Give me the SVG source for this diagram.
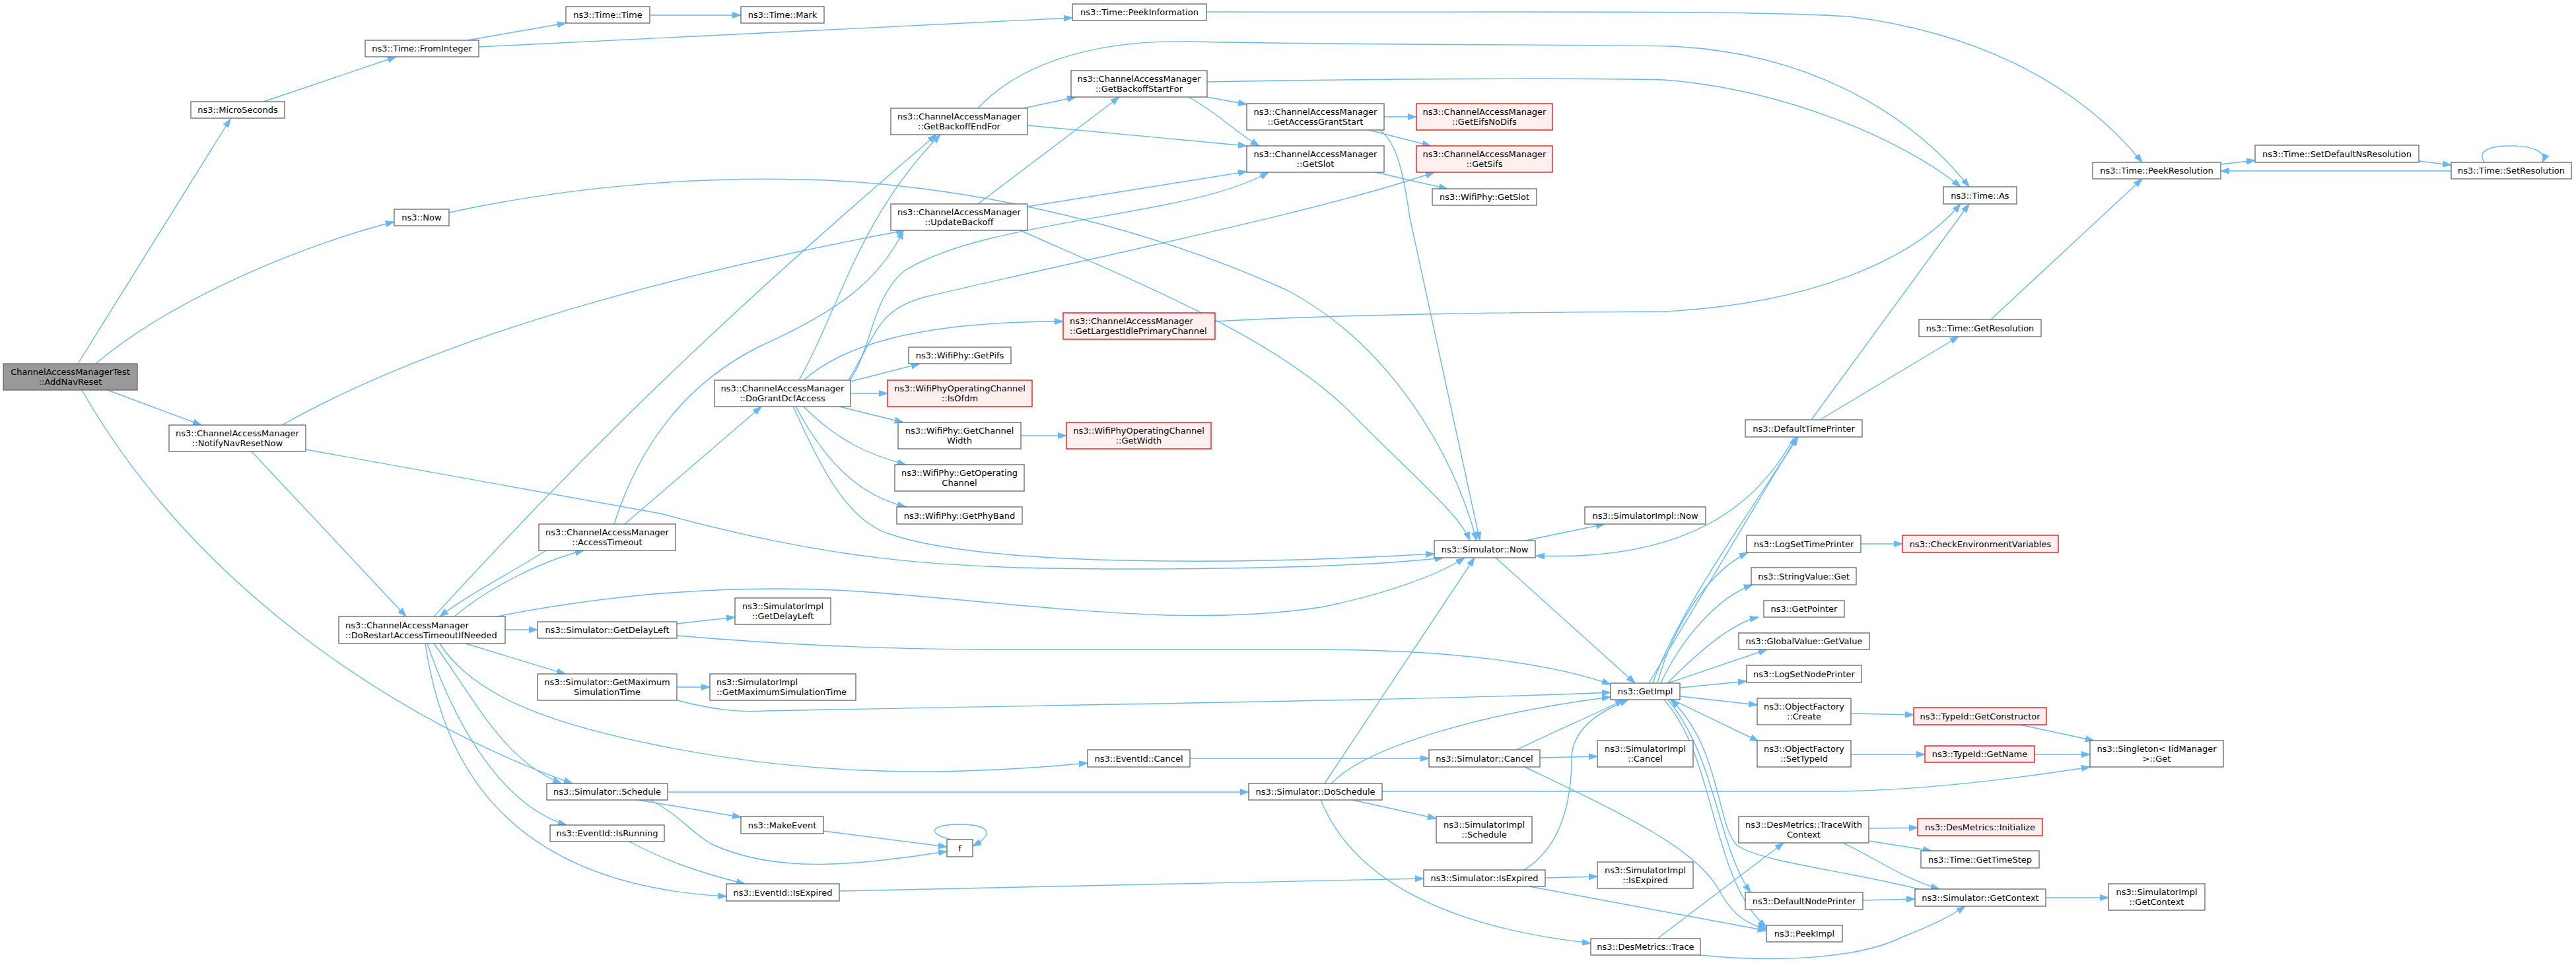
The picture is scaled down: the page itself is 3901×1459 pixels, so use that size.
<svg xmlns="http://www.w3.org/2000/svg" width="3901" height="1459" viewBox="0 0 3901 1459">
<defs>
<style>
.node rect{fill:#fff;stroke:#666;stroke-width:1.3}
.node.red rect{fill:#fff0f0;stroke:#f00}
.node.root rect{fill:#999;stroke:#666}
.node text{font-family:"DejaVu Sans","Liberation Sans",sans-serif;font-size:13px;fill:#000;text-anchor:middle}
.node text.l{text-anchor:start}
#edges path{fill:none;stroke:#63b8ff;stroke-width:1.4;marker-end:url(#arr)}
</style>
<marker id="arr" markerUnits="userSpaceOnUse" markerWidth="14" markerHeight="10" refX="13" refY="5" orient="auto"><path d="M0,0.5 L13,5 L0,9.5 z" fill="#63b8ff" stroke="#63b8ff" stroke-width="1"/></marker>
</defs>
<rect width="3901" height="1459" fill="#fff"/>
<g id="edges">
<path d="M118,551 L349,180"/>
<path d="M145,551 C270,445 480,365 597,336"/>
<path d="M163,591 L305,644"/>
<path d="M124,591 C300,900 620,1100 867,1187"/>
<path d="M399,154 L600,86"/>
<path d="M708,61 L857,35"/>
<path d="M725,71 L1624,27"/>
<path d="M984,23 L1122,23"/>
<path d="M1827,18 C2300,19 2650,15 2800,25 C3000,50 3150,130 3244,246"/>
<path d="M680,322 C850,285 1050,265 1250,273 C1500,285 1750,350 1950,440 C2100,520 2200,680 2236,819"/>
<path d="M427,644 C700,490 1100,400 1370,349"/>
<path d="M381,684 L615,934"/>
<path d="M463,681 L1000,778 C1250,845 1400,862 1700,862 C1950,862 2100,855 2186,845"/>
<path d="M688,934 C740,890 820,850 884,834"/>
<path d="M827,834 C770,870 710,900 666,934"/>
<path d="M657,934 C800,780 1000,560 1418,204"/>
<path d="M765,954 L814,954"/>
<path d="M705,975 L856,1021"/>
<path d="M657,975 C720,1060 760,1150 850,1187"/>
<path d="M647,975 C690,1100 760,1220 858,1250"/>
<path d="M644,975 C670,1150 760,1340 1100,1358"/>
<path d="M666,975 C720,1060 850,1100 1000,1130 C1200,1170 1400,1180 1647,1156"/>
<path d="M752,934 C900,905 1100,880 1330,898 C1600,920 1800,950 2000,920 C2100,900 2180,870 2218,845"/>
<path d="M930,794 C960,700 1020,590 1150,525 C1260,475 1330,430 1368,349"/>
<path d="M946,794 L1153,616"/>
<path d="M1201,616 C1240,700 1280,790 1350,810 C1500,860 1900,855 2172,839"/>
<path d="M1210,576 C1270,470 1300,330 1424,204"/>
<path d="M1217,576 C1280,520 1400,487 1610,487"/>
<path d="M1287,576 C1320,530 1320,450 1370,410 C1500,330 1800,330 1921,261"/>
<path d="M1285,576 C1330,500 1330,470 1400,450 C1700,380 2000,320 2172,261"/>
<path d="M1288,578 L1393,551"/>
<path d="M1288,596 L1344,596"/>
<path d="M1271,616 L1368,640"/>
<path d="M1217,616 C1270,670 1320,690 1372,704"/>
<path d="M1205,616 C1250,700 1300,750 1372,768"/>
<path d="M1546,660 L1615,660"/>
<path d="M1481,309 L1695,147"/>
<path d="M1556,313 L1888,260"/>
<path d="M1545,349 C1750,440 1950,520 2060,640 C2150,730 2210,780 2226,819"/>
<path d="M1550,164 L1629,147"/>
<path d="M1556,190 L1888,221"/>
<path d="M1481,164 C1540,100 1650,60 1800,63 C2100,69 2400,67 2530,70 C2750,80 2900,180 2982,283"/>
<path d="M1828,147 L1888,158"/>
<path d="M1800,147 C1850,175 1870,200 1907,221"/>
<path d="M1828,124 C2100,119 2400,118 2520,121 C2700,135 2880,210 2969,283"/>
<path d="M2096,177 L2145,177"/>
<path d="M2073,197 L2167,221"/>
<path d="M2089,197 C2115,215 2125,260 2135,330 L2241,819"/>
<path d="M2083,261 L2192,286"/>
<path d="M1840,487 C2100,473 2400,473 2520,472 C2750,460 2900,390 2969,309"/>
<path d="M2717,662 C2660,770 2550,850 2326,842"/>
<path d="M2743,636 L2982,309"/>
<path d="M2756,636 L2966,510"/>
<path d="M3015,484 L3244,271"/>
<path d="M3363,249 L3415,243"/>
<path d="M3663,244 L3712,250"/>
<path d="M3712,259 L3363,259"/>
<path d="M3762,246 C3750,226 3775,221 3802,221 C3835,221 3858,230 3850,246"/>
<path d="M2006,1187 L2233,845"/>
<path d="M2310,819 L2430,794"/>
<path d="M2265,845 L2476,1035"/>
<path d="M1025,945 L1113,935"/>
<path d="M1025,963 C1200,978 1350,984 1500,984 L2000,984 C2200,985 2350,1005 2439,1037"/>
<path d="M1025,1041 L1075,1041"/>
<path d="M1025,1061 C1080,1075 1120,1080 1160,1077 C1600,1068 2200,1060 2439,1049"/>
<path d="M1011,1200 L1891,1200"/>
<path d="M966,1212 L1122,1238"/>
<path d="M985,1212 C1030,1235 1050,1265 1080,1280 C1180,1325 1300,1310 1434,1290"/>
<path d="M1247,1259 L1434,1283"/>
<path d="M1440,1272 C1400,1262 1412,1249 1453,1249 C1495,1249 1510,1262 1473,1282"/>
<path d="M953,1275 C1000,1300 1050,1320 1128,1339"/>
<path d="M1802,1149 L2164,1149"/>
<path d="M1271,1350 L2156,1331"/>
<path d="M2048,1212 L2175,1240"/>
<path d="M2000,1212 C2040,1310 2150,1400 2409,1429"/>
<path d="M2016,1187 C2070,1130 2250,1080 2439,1056"/>
<path d="M2093,1199 L2765,1199 C2900,1199 3050,1180 3165,1162"/>
<path d="M2332,1148 L2419,1146"/>
<path d="M2297,1136 C2350,1110 2420,1080 2459,1060"/>
<path d="M2309,1162 C2450,1230 2560,1280 2600,1343 C2620,1380 2640,1400 2675,1407"/>
<path d="M2340,1330 L2419,1328"/>
<path d="M2308,1318 C2370,1280 2380,1200 2380,1150 C2380,1100 2430,1075 2466,1060"/>
<path d="M2316,1343 L2675,1410"/>
<path d="M2510,1422 L2701,1277"/>
<path d="M2575,1447 C2700,1460 2820,1450 2880,1420 C2930,1400 2950,1390 2976,1373"/>
<path d="M2830,1255 L2904,1254"/>
<path d="M2830,1274 L2925,1289"/>
<path d="M2791,1277 C2840,1300 2880,1330 2937,1347"/>
<path d="M2821,1364 L2900,1362"/>
<path d="M2906,1347 C2800,1320 2660,1305 2630,1280 C2600,1250 2605,1130 2530,1060"/>
<path d="M3098,1360 L3193,1360"/>
<path d="M2497,1035 L2721,662"/>
<path d="M2503,1035 C2540,930 2640,790 2723,662"/>
<path d="M2510,1035 C2530,960 2580,870 2647,837"/>
<path d="M2515,1035 C2545,970 2600,905 2654,886"/>
<path d="M2525,1035 C2570,990 2620,945 2663,935"/>
<path d="M2526,1035 L2676,984"/>
<path d="M2545,1042 L2645,1032"/>
<path d="M2545,1055 L2661,1068"/>
<path d="M2532,1060 L2663,1123"/>
<path d="M2526,1060 C2600,1150 2600,1280 2651,1352"/>
<path d="M2520,1060 C2600,1150 2590,1330 2675,1405"/>
<path d="M2803,1081 L2898,1083"/>
<path d="M2803,1143 L2915,1143"/>
<path d="M3059,1098 L3171,1122"/>
<path d="M3081,1143 L3165,1143"/>
<path d="M2818,824 L2881,824"/>
</g>
<g id="n_root" class="node root"><rect x="5" y="551" width="203" height="40"/><text x="106.5" y="568">ChannelAccessManagerTest</text><text x="106.5" y="583">::AddNavReset</text></g>
<g id="n_microseconds" class="node"><rect x="289" y="154" width="142" height="25"/><text x="360" y="171">ns3::MicroSeconds</text></g>
<g id="n_frominteger" class="node"><rect x="553" y="61" width="172" height="25"/><text x="639" y="78">ns3::Time::FromInteger</text></g>
<g id="n_timetime" class="node"><rect x="857" y="10" width="127" height="25"/><text x="920.5" y="27">ns3::Time::Time</text></g>
<g id="n_timemark" class="node"><rect x="1122" y="10" width="126" height="25"/><text x="1185" y="27">ns3::Time::Mark</text></g>
<g id="n_peekinformation" class="node"><rect x="1624" y="6" width="203" height="25"/><text x="1725.5" y="23">ns3::Time::PeekInformation</text></g>
<g id="n_now" class="node"><rect x="597" y="317" width="83" height="25"/><text x="638.5" y="334">ns3::Now</text></g>
<g id="n_notifynavresetnow" class="node"><rect x="256" y="644" width="207" height="40"/><text x="359.5" y="661">ns3::ChannelAccessManager</text><text x="359.5" y="676">::NotifyNavResetNow</text></g>
<g id="n_accesstimeout" class="node"><rect x="816" y="794" width="207" height="40"/><text x="919.5" y="811">ns3::ChannelAccessManager</text><text x="919.5" y="826">::AccessTimeout</text></g>
<g id="n_dorestart" class="node"><rect x="513" y="934" width="252" height="41"/><text class="l" x="523" y="951.5">ns3::ChannelAccessManager</text><text class="l" x="523" y="966.5">::DoRestartAccessTimeoutIfNeeded</text></g>
<g id="n_getdelayleft" class="node"><rect x="814" y="942" width="211" height="25"/><text x="919.5" y="959">ns3::Simulator::GetDelayLeft</text></g>
<g id="n_getmaxsimtime" class="node"><rect x="814" y="1021" width="211" height="40"/><text x="919.5" y="1038">ns3::Simulator::GetMaximum</text><text x="919.5" y="1053">SimulationTime</text></g>
<g id="n_schedule" class="node"><rect x="828" y="1187" width="183" height="25"/><text x="919.5" y="1204">ns3::Simulator::Schedule</text></g>
<g id="n_isrunning" class="node"><rect x="833" y="1250" width="173" height="25"/><text x="919.5" y="1267">ns3::EventId::IsRunning</text></g>
<g id="n_getbackoffstartfor" class="node"><rect x="1622" y="107" width="206" height="40"/><text x="1725" y="124">ns3::ChannelAccessManager</text><text x="1725" y="139">::GetBackoffStartFor</text></g>
<g id="n_getbackoffendfor" class="node"><rect x="1349" y="164" width="207" height="40"/><text x="1452.5" y="181">ns3::ChannelAccessManager</text><text x="1452.5" y="196">::GetBackoffEndFor</text></g>
<g id="n_getaccessgrantstart" class="node"><rect x="1888" y="157" width="208" height="40"/><text x="1992" y="174">ns3::ChannelAccessManager</text><text x="1992" y="189">::GetAccessGrantStart</text></g>
<g id="n_camgetslot" class="node"><rect x="1888" y="221" width="208" height="40"/><text x="1992" y="238">ns3::ChannelAccessManager</text><text x="1992" y="253">::GetSlot</text></g>
<g id="n_updatebackoff" class="node"><rect x="1349" y="309" width="207" height="40"/><text x="1452.5" y="326">ns3::ChannelAccessManager</text><text x="1452.5" y="341">::UpdateBackoff</text></g>
<g id="n_getlargestidle" class="node red"><rect x="1610" y="474" width="230" height="40"/><text class="l" x="1620" y="491">ns3::ChannelAccessManager</text><text class="l" x="1620" y="506">::GetLargestIdlePrimaryChannel</text></g>
<g id="n_getpifs" class="node"><rect x="1376" y="526" width="155" height="25"/><text x="1453.5" y="543">ns3::WifiPhy::GetPifs</text></g>
<g id="n_dograntdcfaccess" class="node"><rect x="1082" y="576" width="206" height="40"/><text x="1185" y="593">ns3::ChannelAccessManager</text><text x="1185" y="608">::DoGrantDcfAccess</text></g>
<g id="n_isofdm" class="node red"><rect x="1344" y="576" width="219" height="40"/><text x="1453.5" y="593">ns3::WifiPhyOperatingChannel</text><text x="1453.5" y="608">::IsOfdm</text></g>
<g id="n_getchannelwidth" class="node"><rect x="1360" y="640" width="186" height="40"/><text x="1453" y="657">ns3::WifiPhy::GetChannel</text><text x="1453" y="672">Width</text></g>
<g id="n_getwidth" class="node red"><rect x="1615" y="640" width="219" height="40"/><text x="1724.5" y="657">ns3::WifiPhyOperatingChannel</text><text x="1724.5" y="672">::GetWidth</text></g>
<g id="n_getoperatingchannel" class="node"><rect x="1355" y="704" width="196" height="40"/><text x="1453" y="721">ns3::WifiPhy::GetOperating</text><text x="1453" y="736">Channel</text></g>
<g id="n_getphyband" class="node"><rect x="1358" y="768" width="190" height="26"/><text x="1453" y="785.5">ns3::WifiPhy::GetPhyBand</text></g>
<g id="n_simimplgetdelayleft" class="node"><rect x="1113" y="906" width="145" height="40"/><text x="1185.5" y="923">ns3::SimulatorImpl</text><text x="1185.5" y="938">::GetDelayLeft</text></g>
<g id="n_simimplgetmaxsimtime" class="node"><rect x="1075" y="1021" width="221" height="40"/><text class="l" x="1085" y="1038">ns3::SimulatorImpl</text><text class="l" x="1085" y="1053">::GetMaximumSimulationTime</text></g>
<g id="n_eventidcancel" class="node"><rect x="1647" y="1136" width="155" height="26"/><text x="1724.5" y="1153.5">ns3::EventId::Cancel</text></g>
<g id="n_doschedule" class="node"><rect x="1891" y="1187" width="202" height="25"/><text x="1992" y="1204">ns3::Simulator::DoSchedule</text></g>
<g id="n_makeevent" class="node"><rect x="1122" y="1237" width="125" height="26"/><text x="1184.5" y="1254.5">ns3::MakeEvent</text></g>
<g id="n_f" class="node"><rect x="1434" y="1272" width="39" height="26"/><text x="1453.5" y="1289.5">f</text></g>
<g id="n_eventidisexpired" class="node"><rect x="1100" y="1339" width="171" height="26"/><text x="1185.5" y="1356.5">ns3::EventId::IsExpired</text></g>
<g id="n_geteifsnodifs" class="node red"><rect x="2145" y="157" width="206" height="40"/><text x="2248" y="174">ns3::ChannelAccessManager</text><text x="2248" y="189">::GetEifsNoDifs</text></g>
<g id="n_getsifs" class="node red"><rect x="2145" y="221" width="206" height="40"/><text x="2248" y="238">ns3::ChannelAccessManager</text><text x="2248" y="253">::GetSifs</text></g>
<g id="n_wifiphygetslot" class="node"><rect x="2169" y="286" width="158" height="25"/><text x="2248" y="303">ns3::WifiPhy::GetSlot</text></g>
<g id="n_timeas" class="node"><rect x="2943" y="283" width="111" height="26"/><text x="2998.5" y="300.5">ns3::Time::As</text></g>
<g id="n_peekresolution" class="node"><rect x="3169" y="246" width="194" height="25"/><text x="3266" y="263">ns3::Time::PeekResolution</text></g>
<g id="n_setdefaultnsresolution" class="node"><rect x="3415" y="220" width="248" height="26"/><text x="3539" y="237.5">ns3::Time::SetDefaultNsResolution</text></g>
<g id="n_setresolution" class="node"><rect x="3712" y="246" width="182" height="25"/><text x="3803" y="263">ns3::Time::SetResolution</text></g>
<g id="n_getresolution" class="node"><rect x="2906" y="484" width="185" height="26"/><text x="2998.5" y="501.5">ns3::Time::GetResolution</text></g>
<g id="n_defaulttimeprinter" class="node"><rect x="2643" y="636" width="177" height="26"/><text x="2731.5" y="653.5">ns3::DefaultTimePrinter</text></g>
<g id="n_simimplnow" class="node"><rect x="2400" y="768" width="183" height="26"/><text x="2491.5" y="785.5">ns3::SimulatorImpl::Now</text></g>
<g id="n_simnow" class="node"><rect x="2172" y="819" width="153" height="26"/><text x="2248.5" y="836.5">ns3::Simulator::Now</text></g>
<g id="n_logsettimeprinter" class="node"><rect x="2645" y="811" width="173" height="26"/><text x="2731.5" y="828.5">ns3::LogSetTimePrinter</text></g>
<g id="n_checkenv" class="node red"><rect x="2881" y="811" width="236" height="26"/><text x="2999" y="828.5">ns3::CheckEnvironmentVariables</text></g>
<g id="n_stringvalueget" class="node"><rect x="2652" y="860" width="159" height="26"/><text x="2731.5" y="877.5">ns3::StringValue::Get</text></g>
<g id="n_getpointer" class="node"><rect x="2671" y="910" width="122" height="25"/><text x="2732" y="927">ns3::GetPointer</text></g>
<g id="n_globalvaluegetvalue" class="node"><rect x="2633" y="959" width="198" height="25"/><text x="2732" y="976">ns3::GlobalValue::GetValue</text></g>
<g id="n_logsetnodeprinter" class="node"><rect x="2645" y="1008" width="174" height="26"/><text x="2732" y="1025.5">ns3::LogSetNodePrinter</text></g>
<g id="n_getimpl" class="node"><rect x="2439" y="1035" width="105" height="25"/><text x="2491.5" y="1052">ns3::GetImpl</text></g>
<g id="n_ofcreate" class="node"><rect x="2661" y="1058" width="142" height="40"/><text x="2732" y="1075">ns3::ObjectFactory</text><text x="2732" y="1090">::Create</text></g>
<g id="n_getconstructor" class="node red"><rect x="2898" y="1072" width="201" height="26"/><text x="2998.5" y="1089.5">ns3::TypeId::GetConstructor</text></g>
<g id="n_simcancel" class="node"><rect x="2164" y="1136" width="168" height="26"/><text x="2248" y="1153.5">ns3::Simulator::Cancel</text></g>
<g id="n_simimplcancel" class="node"><rect x="2419" y="1122" width="145" height="40"/><text x="2491.5" y="1139">ns3::SimulatorImpl</text><text x="2491.5" y="1154">::Cancel</text></g>
<g id="n_ofsettypeid" class="node"><rect x="2661" y="1122" width="142" height="40"/><text x="2732" y="1139">ns3::ObjectFactory</text><text x="2732" y="1154">::SetTypeId</text></g>
<g id="n_getname" class="node red"><rect x="2915" y="1130" width="166" height="25"/><text x="2998" y="1147">ns3::TypeId::GetName</text></g>
<g id="n_singletonget" class="node"><rect x="3165" y="1122" width="202" height="40"/><text x="3266" y="1139">ns3::Singleton&lt; IidManager</text><text x="3266" y="1154">&gt;::Get</text></g>
<g id="n_simimplschedule" class="node"><rect x="2175" y="1237" width="145" height="40"/><text x="2247.5" y="1254">ns3::SimulatorImpl</text><text x="2247.5" y="1269">::Schedule</text></g>
<g id="n_tracewithcontext" class="node"><rect x="2633" y="1237" width="197" height="40"/><text x="2731.5" y="1254">ns3::DesMetrics::TraceWith</text><text x="2731.5" y="1269">Context</text></g>
<g id="n_desinit" class="node red"><rect x="2904" y="1240" width="189" height="26"/><text x="2998.5" y="1257.5">ns3::DesMetrics::Initialize</text></g>
<g id="n_gettimestep" class="node"><rect x="2909" y="1289" width="179" height="26"/><text x="2998.5" y="1306.5">ns3::Time::GetTimeStep</text></g>
<g id="n_simisexpired" class="node"><rect x="2156" y="1318" width="184" height="25"/><text x="2248" y="1335">ns3::Simulator::IsExpired</text></g>
<g id="n_simimplisexpired" class="node"><rect x="2419" y="1306" width="145" height="40"/><text x="2491.5" y="1323">ns3::SimulatorImpl</text><text x="2491.5" y="1338">::IsExpired</text></g>
<g id="n_defaultnodeprinter" class="node"><rect x="2643" y="1352" width="178" height="26"/><text x="2732" y="1369.5">ns3::DefaultNodePrinter</text></g>
<g id="n_simgetcontext" class="node"><rect x="2900" y="1347" width="198" height="26"/><text x="2999" y="1364.5">ns3::Simulator::GetContext</text></g>
<g id="n_simimplgetcontext" class="node"><rect x="3193" y="1339" width="146" height="40"/><text x="3266" y="1356">ns3::SimulatorImpl</text><text x="3266" y="1371">::GetContext</text></g>
<g id="n_peekimpl" class="node"><rect x="2675" y="1402" width="115" height="25"/><text x="2732.5" y="1419">ns3::PeekImpl</text></g>
<g id="n_destrace" class="node"><rect x="2409" y="1422" width="166" height="25"/><text x="2492" y="1439">ns3::DesMetrics::Trace</text></g>
</svg>
